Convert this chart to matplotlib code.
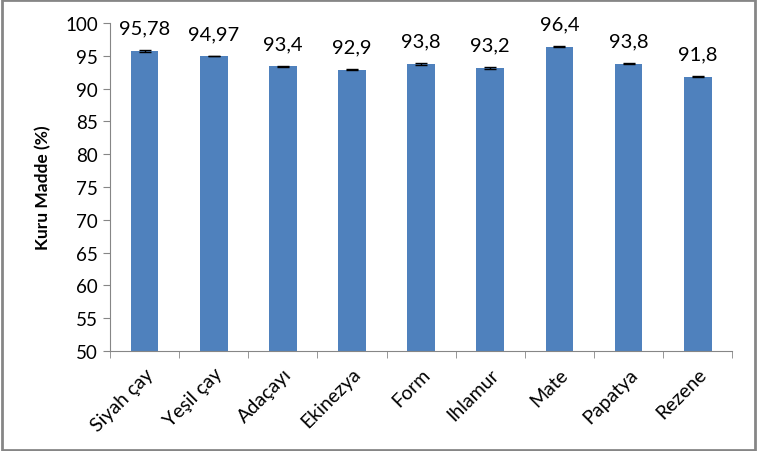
import numpy as np
import matplotlib.pyplot as plt
from matplotlib.patches import Rectangle

plt.rcParams['font.family'] = ['Lato', 'DejaVu Sans']

# data
categories = ["Siyah çay", "Yeşil çay", "Adaçayı", "Ekinezya", "Form",
              "Ihlamur", "Mate", "Papatya", "Rezene"]
values = [95.78, 94.97, 93.4, 92.9, 93.8, 93.2, 96.4, 93.8, 91.8]
errors = [0.15, 0.06, 0.07, 0.07, 0.15, 0.15, 0.05, 0.07, 0.07]
labels = ["95,78", "94,97", "93,4", "92,9", "93,8", "93,2", "96,4", "93,8", "91,8"]

fig = plt.figure(figsize=(7.57, 4.52), dpi=100)
ax = fig.add_axes([0.1453, 0.2212, 0.822, 0.7258])

x = np.arange(len(categories))
ax.bar(x, values, width=0.4, color='#4F81BD', bottom=0, zorder=2)
ax.errorbar(x, values, yerr=errors, fmt='none', ecolor='black',
            elinewidth=1, capsize=4, capthick=1, zorder=3)

for xi, v, lab in zip(x, values, labels):
    ax.annotate(lab, (xi, v), xytext=(0, 10), textcoords='offset points',
                ha='center', va='bottom', fontsize=14.5)

ax.set_ylim(50, 100)
ax.set_yticks(np.arange(50, 101, 5))
ax.set_xlim(-0.5, len(categories) - 0.5)
ax.set_xticks(x)
ax.set_xticklabels(categories, rotation=45, ha='right', rotation_mode='anchor',
                   fontsize=14)
ax.set_xticks(np.arange(-0.5, len(categories)), minor=True)
ax.tick_params(axis='x', which='major', length=0, pad=10)
ax.tick_params(axis='x', which='minor', length=5, color='#868686', direction='out')
ax.tick_params(axis='y', length=5, color='#868686', labelsize=13.5)
ax.set_ylabel('Kuru Madde (%)', fontsize=12.5, fontweight='bold', labelpad=10)

for s in ['top', 'right']:
    ax.spines[s].set_visible(False)
for s in ['left', 'bottom']:
    ax.spines[s].set_color('#868686')

fig.patches.append(Rectangle((0.002, 0.003), 0.996, 0.994, transform=fig.transFigure,
                             fill=False, edgecolor='#868686', linewidth=2))

plt.savefig('out.png', dpi=100)
